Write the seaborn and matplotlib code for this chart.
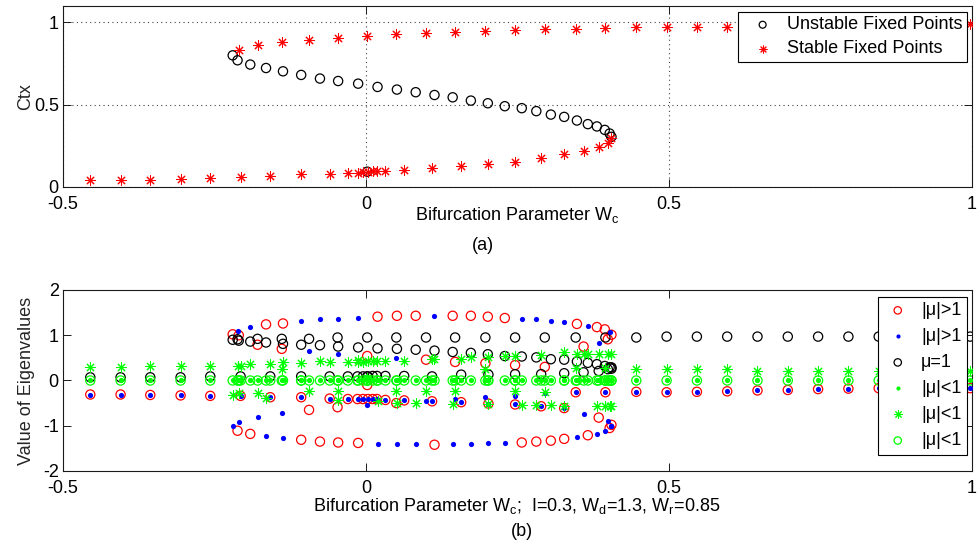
import numpy as np
import pandas as pd
import matplotlib
matplotlib.use("Agg")
import matplotlib.pyplot as plt
import seaborn as sns

nan = np.nan

# ---------------------------------------------------------------
# Fixed points of the model versus the bifurcation parameter Wc
# ---------------------------------------------------------------
lower_wc = [-0.455, -0.405, -0.356, -0.306, -0.257, -0.207, -0.158, -0.107, -0.060,
            -0.030, -0.014, -0.005, 0.003, 0.011, 0.018, 0.032, 0.063, 0.109, 0.157,
            0.202, 0.246, 0.289, 0.327, 0.359, 0.384, 0.399, 0.405]
lower_ctx = [0.040, 0.044, 0.044, 0.050, 0.055, 0.061, 0.067, 0.077, 0.081,
             0.087, 0.087, 0.089, 0.093, 0.095, 0.097, 0.099, 0.103, 0.113, 0.129,
             0.139, 0.153, 0.176, 0.198, 0.218, 0.244, 0.268, 0.295]

unstable_wc = [-0.220, -0.212, -0.191, -0.165, -0.137, -0.107, -0.076, -0.046, -0.013,
               0.002, 0.019, 0.051, 0.082, 0.113, 0.143, 0.173, 0.201, 0.229, 0.257,
               0.281, 0.305, 0.327, 0.348, 0.366, 0.381, 0.394, 0.402, 0.405]
unstable_ctx = [0.800, 0.770, 0.744, 0.723, 0.703, 0.681, 0.659, 0.644, 0.628,
                0.093, 0.608, 0.592, 0.576, 0.559, 0.545, 0.525, 0.509, 0.491, 0.479,
                0.461, 0.440, 0.426, 0.404, 0.382, 0.368, 0.347, 0.325, 0.305]

upper_wc = [-0.210, -0.179, -0.139, -0.094, -0.047, 0.002, 0.050, 0.099, 0.147,
            0.197, 0.246, 0.295, 0.346, 0.395, 0.446, 0.496, 0.546, 0.596, 0.646,
            0.696, 0.746, 0.796, 0.846, 0.896, 0.946, 0.997]
upper_ctx = [0.834, 0.861, 0.879, 0.895, 0.907, 0.917, 0.927, 0.937, 0.944,
             0.947, 0.953, 0.958, 0.962, 0.968, 0.970, 0.971, 0.971, 0.974, 0.976,
             0.978, 0.980, 0.982, 0.983, 0.984, 0.986, 0.988]

# ---------------------------------------------------------------
# Eigenvalues of each fixed point (lower, unstable, upper branch order)
# ---------------------------------------------------------------
eig_red_o = [
    -0.31, -0.31, -0.32, -0.33, -0.34, -0.34, -0.37, -0.37, -0.40,
    -0.41, -0.41, -0.41, -0.41, -0.41, -0.41, -0.43, -0.44, -0.46, -0.48,
    -0.51, -0.53, -0.57, -0.61, 0.75, -0.82, 0.91, -0.98,
    1.02, -1.11, -1.18, 1.24, 1.26, -1.31, -1.35, -1.37, -1.38,
    -0.10, 1.41, 1.43, 1.43, -1.42, 1.43, 1.43, 1.41, 1.38, -1.37,
    -1.35, -1.33, -1.29, 1.25, -1.21, 1.18, 1.13, -1.05, 1.01,
    1.00, 0.79, 0.70, -0.65, -0.59, 0.54, -0.50, 0.46, 0.41,
    0.38, 0.34, 0.30, -0.26, -0.26, -0.25, -0.26, -0.25, -0.24, -0.22,
    -0.21, -0.19, -0.18, -0.17, -0.17, -0.17, -0.17]
eig_blue_dot = [
    -0.31, -0.31, -0.32, -0.33, -0.34, -0.34, -0.37, -0.37, -0.40,
    -0.41, -0.41, -0.41, -0.41, -0.41, -0.41, -0.43, -0.44, -0.46, -0.48,
    -0.51, -0.53, -0.57, -0.61, -0.74, 0.82, -0.90, -1.01,
    -1.00, 1.10, 1.18, -1.22, -1.27, 1.31, 1.35, 1.36, 1.38,
    nan, -1.40, -1.40, -1.40, 1.43, -1.40, -1.40, -1.39, -1.38, 1.36,
    1.35, 1.32, 1.29, -1.25, 1.21, -1.18, -1.11, 1.07, -1.00,
    -0.91, -0.80, -0.71, 0.65, 0.59, -0.54, 0.49, -0.46, -0.41,
    -0.37, -0.34, -0.28, -0.26, -0.26, -0.25, -0.26, -0.25, -0.24, -0.22,
    -0.21, -0.19, -0.18, -0.17, -0.17, -0.17, -0.17]
eig_black_o = [
    0.07, 0.07, 0.07, 0.07, 0.09, 0.09, 0.09, 0.09, 0.09,
    0.09, 0.09, 0.09, 0.09, 0.10, 0.10, 0.10, 0.10, 0.09, 0.13,
    0.13, 0.14, 0.14, 0.16, 0.18, 0.21, 0.25, 0.29,
    0.90, 0.91, 0.86, 0.84, 0.81, 0.79, 0.78, 0.75, 0.73,
    0.09, 0.71, 0.70, 0.68, 0.66, 0.63, 0.61, 0.58, 0.54, 0.53,
    0.51, 0.47, 0.46, 0.42, 0.39, 0.36, 0.32, 0.29, 0.26,
    0.88, 0.92, 0.92, 0.92, 0.95, 0.95, 0.95, 0.95, 0.95,
    0.95, 0.95, 0.95, 0.95, 0.95, 0.95, 0.97, 0.97, 0.97, 0.97,
    0.97, 0.97, 0.97, 0.97, 0.97, 0.97, 0.97]
eig_green_dot = [
    0.0, 0.0, 0.0, 0.0, 0.0, 0.0, 0.0, 0.0, 0.0,
    0.0, 0.0, 0.0, 0.0, 0.0, 0.0, 0.0, 0.0, 0.0, 0.0,
    0.0, 0.0, 0.0, 0.0, 0.0, 0.0, 0.0, 0.0,
    0.0, 0.0, 0.0, 0.0, 0.0, 0.0, 0.0, 0.0, 0.0,
    0.0, 0.0, 0.0, 0.0, 0.0, 0.0, 0.0, 0.0, 0.0, 0.0,
    0.0, 0.0, 0.0, 0.0, 0.0, 0.0, 0.0, 0.0, 0.0,
    0.0, 0.0, 0.0, 0.0, 0.0, 0.0, 0.0, 0.0, 0.0,
    0.0, 0.0, 0.0, 0.0, 0.0, 0.0, 0.0, 0.0, 0.0, 0.0,
    0.0, 0.0, 0.0, 0.0, 0.0, 0.0, 0.0]
eig_green_star = [
    0.29, 0.29, 0.31, 0.31, 0.33, 0.33, 0.37, 0.38, 0.40,
    0.40, 0.41, 0.41, 0.42, 0.42, 0.42, 0.43, 0.44, 0.47, 0.48,
    0.51, 0.54, 0.57, 0.62, 0.59, 0.59, 0.59, 0.59,
    -0.33, 0.33, 0.36, -0.39, 0.40, nan, 0.42, -0.43, 0.46,
    0.05, -0.46, -0.49, -0.50, 0.47, -0.52, 0.51, -0.51, 0.54, -0.54,
    -0.55, -0.55, -0.57, 0.59, 0.59, -0.57, -0.57, -0.57, -0.57,
    -0.28, -0.28, 0.26, -0.24, -0.24, nan, -0.24, -0.24, -0.24,
    0.25, -0.24, -0.26, 0.27, 0.27, 0.25, 0.25, 0.25, 0.25, 0.22,
    0.22, 0.20, 0.20, 0.20, 0.20, 0.20, 0.20]
eig_green_o = [
    0.0, 0.0, 0.0, 0.0, 0.0, 0.0, 0.0, 0.0, 0.0,
    0.0, 0.0, 0.0, 0.0, 0.0, 0.0, 0.0, 0.0, 0.0, 0.0,
    0.0, 0.0, 0.0, 0.0, 0.0, 0.0, 0.0, 0.0,
    0.0, 0.0, 0.0, 0.0, 0.0, 0.0, 0.0, 0.0, 0.0,
    0.0, 0.0, 0.0, 0.0, 0.0, 0.0, 0.0, 0.0, 0.0, 0.0,
    0.0, 0.0, 0.0, 0.0, 0.0, 0.0, 0.0, 0.0, 0.0,
    0.0, 0.0, 0.0, 0.0, 0.0, 0.0, 0.0, 0.0, 0.0,
    0.0, 0.0, 0.0, 0.0, 0.0, 0.0, 0.0, 0.0, 0.0, 0.0,
    0.0, 0.0, 0.0, 0.0, 0.0, 0.0, 0.0]

x_ticks = [-0.5, 0, 0.5, 1]
x_ticklabels = ["-0.5", "0", "0.5", "1"]
ctx_ticks = [0, 0.5, 1]
ctx_ticklabels = ["0", "0.5", "1"]
eig_ticks = [-2, -1, 0, 1, 2]
eig_ticklabels = ["-2", "-1", "0", "1", "2"]

# ---------------------------------------------------------------
sns.set_style("white")
plt.rcParams.update({
    "font.family": ["Liberation Sans", "DejaVu Sans"],
    "font.size": 13,
    "mathtext.fontset": "custom",
    "mathtext.rm": "Liberation Sans",
    "mathtext.it": "Liberation Sans:italic",
    "axes.edgecolor": "#1a1a1a",
    "axes.linewidth": 0.8,
    "text.color": "black",
    "xtick.color": "#1a1a1a",
    "ytick.color": "#1a1a1a",
    "xtick.labelcolor": "black",
    "ytick.labelcolor": "black",
})

fixed_unstable = pd.DataFrame({"Wc": unstable_wc, "Ctx": unstable_ctx})
fixed_stable = pd.DataFrame({"Wc": lower_wc + upper_wc, "Ctx": lower_ctx + upper_ctx})
eigs = pd.DataFrame({
    "Wc": lower_wc + unstable_wc + upper_wc,
    "red_o": eig_red_o,
    "blue_dot": eig_blue_dot,
    "black_o": eig_black_o,
    "green_dot": eig_green_dot,
    "green_star": eig_green_star,
    "green_o": eig_green_o,
})

ASTERISK = (8, 2, 0)
GREEN = (0.0, 1.0, 0.0)
S_RING = 44
S_STAR = 46
S_DOT = 14
LW_STAR = 0.75

fig = plt.figure(figsize=(9.77, 5.49), dpi=100)
ax1 = fig.add_axes([0.0645, 0.6594, 0.9304, 0.3297])
ax2 = fig.add_axes([0.0645, 0.1421, 0.9304, 0.3297])

# ---- (a) fixed points ----
sns.scatterplot(data=fixed_unstable, x="Wc", y="Ctx", ax=ax1, marker="o", s=S_RING,
                facecolor="none", edgecolor="black", linewidth=0.9,
                label="Unstable Fixed Points", zorder=3)
sns.scatterplot(data=fixed_stable, x="Wc", y="Ctx", ax=ax1, marker=ASTERISK, s=S_STAR,
                color="red", linewidth=LW_STAR, label="Stable Fixed Points", zorder=4)

ax1.set_xlim(-0.5, 1)
ax1.set_ylim(0, 1.1)
ax1.set_xticks(x_ticks, x_ticklabels)
ax1.set_yticks(ctx_ticks, ctx_ticklabels)
ax1.grid(True, linestyle=(0, (1, 3)), color="#444444", linewidth=0.8)
ax1.set_axisbelow(True)
ax1.set_xlabel("")
ax1.set_ylabel("Ctx", fontsize=13)
ax1.yaxis.set_label_coords(-0.032, 0.5)

leg1 = ax1.legend(loc="upper right", bbox_to_anchor=(0.9945, 0.967), borderaxespad=0,
                  frameon=True, fancybox=False, edgecolor="black", framealpha=1,
                  fontsize=13, handlelength=2.2, handletextpad=0.25, borderpad=0.25,
                  labelspacing=0.38, markerscale=0.75)
leg1.get_frame().set_linewidth(0.8)

# ---- (b) eigenvalues ----
sns.scatterplot(data=eigs, x="Wc", y="red_o", ax=ax2, marker="o", s=S_RING,
                facecolor="none", edgecolor="red", linewidth=0.9, label="|μ|>1", zorder=3)
sns.scatterplot(data=eigs, x="Wc", y="blue_dot", ax=ax2, marker="o", s=S_DOT,
                color="blue", linewidth=0, label="|μ|>1", zorder=4)
sns.scatterplot(data=eigs, x="Wc", y="black_o", ax=ax2, marker="o", s=S_RING,
                facecolor="none", edgecolor="black", linewidth=0.9, label="μ=1", zorder=3)
sns.scatterplot(data=eigs, x="Wc", y="green_dot", ax=ax2, marker="o", s=S_DOT,
                color=GREEN, linewidth=0, label="|μ|<1", zorder=4)
sns.scatterplot(data=eigs, x="Wc", y="green_star", ax=ax2, marker=ASTERISK, s=S_STAR,
                color=GREEN, linewidth=LW_STAR, label="|μ|<1", zorder=4)
sns.scatterplot(data=eigs, x="Wc", y="green_o", ax=ax2, marker="o", s=S_RING,
                facecolor="none", edgecolor=GREEN, linewidth=0.9, label="|μ|<1", zorder=3)

ax2.set_xlim(-0.5, 1)
ax2.set_ylim(-2, 2)
ax2.set_xticks(x_ticks, x_ticklabels)
ax2.set_yticks(eig_ticks, eig_ticklabels)
ax2.grid(False)
ax2.set_xlabel("")
ax2.set_ylabel("Value of Eigenvalues", fontsize=13)
ax2.yaxis.set_label_coords(-0.031, 0.5)

leg2 = ax2.legend(loc="upper right", bbox_to_anchor=(0.9945, 0.963), borderaxespad=0,
                  frameon=True, fancybox=False, edgecolor="black", framealpha=1,
                  fontsize=13, handlelength=1.6, handletextpad=0.5, borderpad=0.3,
                  labelspacing=0.5, markerscale=0.8)
leg2.get_frame().set_linewidth(0.8)

for ax in (ax1, ax2):
    ax.tick_params(axis="both", which="major", direction="in", length=6, width=0.7,
                   bottom=True, top=True, left=True, right=True, labelsize=13)
    ax.tick_params(axis="x", pad=6.5)
    ax.tick_params(axis="y", pad=3)
    for sp in ax.spines.values():
        sp.set_visible(True)
        sp.set_linewidth(0.8)
        sp.set_color("#1a1a1a")

fig.text(517 / 977, 1 - 220 / 549, r"Bifurcation Parameter $\mathregular{W_c}$",
         ha="center", va="baseline", fontsize=13)
fig.text(483 / 977, 1 - 245 / 549, "(a)", ha="center", va="center", fontsize=13)
fig.text(517 / 977, 1 - 511 / 549,
         r"Bifurcation Parameter $\mathregular{W_c}$;  I=0.3, $\mathregular{W_d}$=1.3, "
         r"$\mathregular{W_r}$=0.85",
         ha="center", va="baseline", fontsize=13)
fig.text(522 / 977, 1 - 532 / 549, "(b)", ha="center", va="center", fontsize=13)

fig.savefig("out.png", dpi=100)
